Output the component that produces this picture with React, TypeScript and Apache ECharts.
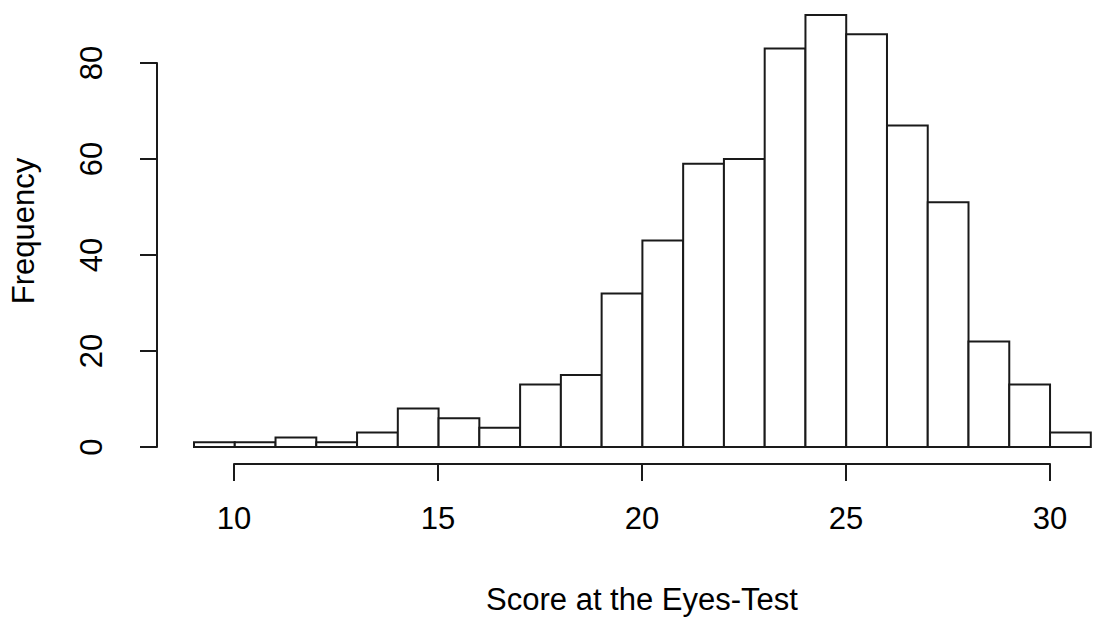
import React, { useEffect, useRef } from "react";
import * as echarts from "echarts";

const binStarts = [9, 10, 11, 12, 13, 14, 15, 16, 17, 18, 19, 20, 21, 22, 23, 24, 25, 26, 27, 28, 29, 30];
const binWidth = 1;
const counts = [1, 1, 2, 1, 3, 8, 6, 4, 13, 15, 32, 43, 59, 60, 83, 90, 86, 67, 51, 22, 13, 3];
const xTicks = [10, 15, 20, 25, 30];
const yTicks = [0, 20, 40, 60, 80];
const xTitle = "Score at the Eyes-Test";
const yTitle = "Frequency";

const FONT = "'Liberation Sans', Arial, sans-serif";
const INK = "#1a1a1a";
const FS = 31;

const hidden = {
  axisLine: { show: false }, axisTick: { show: false },
  axisLabel: { show: false }, splitLine: { show: false },
};

export default function App() {
  const ref = useRef<HTMLDivElement>(null);
  useEffect(() => {
    if (!ref.current) return;
    const chart = echarts.init(ref.current, null, { renderer: "svg" });
    const data = binStarts.map((s, i) => [s, s + binWidth, counts[i]]);
    chart.setOption({
      animation: false,
      backgroundColor: "#ffffff",
      grid: [
        { left: 193.2, right: 2.2, top: 15, bottom: 179 },
        { left: 234, right: 43, top: 15, bottom: 162 },
        { left: 157, right: 2, top: 63, bottom: 179 },
      ],
      xAxis: [
        { gridIndex: 0, type: "value", min: 9, max: 31, ...hidden },
        {
          gridIndex: 1, type: "value", min: xTicks[0], max: xTicks[xTicks.length - 1], interval: 5,
          position: "bottom",
          axisLine: { show: true, lineStyle: { color: INK, width: 2 } },
          axisTick: { show: true, length: 17, lineStyle: { color: INK, width: 2 } },
          axisLabel: { show: true, margin: 39, color: "#000", fontSize: FS, fontFamily: FONT },
          splitLine: { show: false },
          name: xTitle, nameLocation: "middle", nameGap: 120,
          nameTextStyle: { color: "#000", fontSize: FS, fontFamily: FONT },
        },
        { gridIndex: 2, type: "value", min: 0, max: 1, ...hidden },
      ],
      yAxis: [
        {
          gridIndex: 0, type: "value", min: 0, max: 90, ...hidden,
          name: yTitle, nameLocation: "middle", nameGap: 155,
          nameTextStyle: { color: "#000", fontSize: FS, fontFamily: FONT },
        },
        { gridIndex: 1, type: "value", min: 0, max: 1, ...hidden },
        {
          gridIndex: 2, type: "value", min: yTicks[0], max: yTicks[yTicks.length - 1], interval: 20,
          position: "left",
          axisLine: { show: true, lineStyle: { color: INK, width: 2 } },
          axisTick: { show: true, length: 17, lineStyle: { color: INK, width: 2 } },
          axisLabel: { show: true, rotate: 90, margin: 50, color: "#000", fontSize: FS, fontFamily: FONT },
          splitLine: { show: false },
        },
      ],
      series: [
        {
          type: "custom",
          xAxisIndex: 0,
          yAxisIndex: 0,
          data,
          renderItem: (params: any, api: any) => {
            const p0 = api.coord([api.value(0), api.value(2)]);
            const p1 = api.coord([api.value(1), 0]);
            return {
              type: "rect",
              shape: { x: p0[0], y: p0[1], width: p1[0] - p0[0], height: p1[1] - p0[1] },
              style: { fill: "#ffffff", stroke: INK, lineWidth: 2 },
            };
          },
        },
      ],
    });
    return () => chart.dispose();
  }, []);
  return (
    <div
      ref={ref}
      style={{ position: "fixed", left: 0, top: 0, width: 1093, height: 626 }}
    />
  );
}
